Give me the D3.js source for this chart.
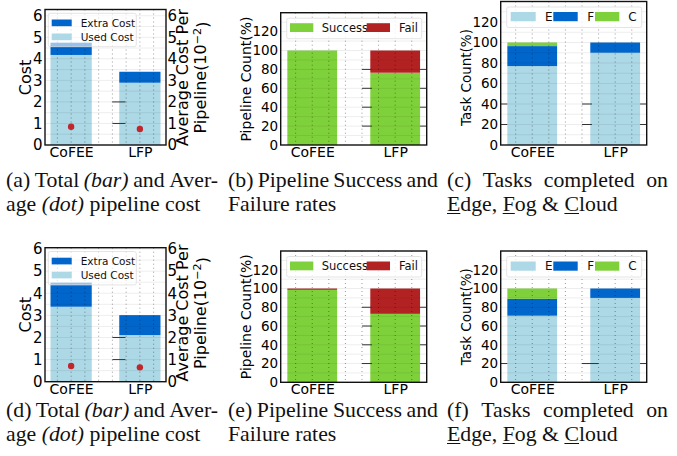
<!DOCTYPE html>
<html><head><meta charset="utf-8">
<script src="https://cdn.jsdelivr.net/npm/d3@7"></script>
<style>body{margin:0;background:#fff} svg{display:block}</style>
</head><body>
<svg id="chart" width="677" height="456"></svg>
<script>
// ---------------- DATA ----------------
const categories = ["CoFEE", "LFP"];
// Row 1
const usedCost1  = [4.18, 2.89];
const extraCost1 = [0.57, 0.51];
const avgCost1   = [0.85, 0.74];   // x10^-2
const success1   = [100, 76.5];
const fail1      = [0, 23.5];
const edge1      = [77, 90];
const fog1       = [19.5, 10];
const cloud1     = [3.5, 0];
// Row 2
const usedCost2  = [3.39, 2.11];
const extraCost2 = [1.09, 0.90];
const avgCost2   = [0.71, 0.65];   // x10^-2
const success2   = [98.6, 73];
const fail2      = [1.4, 27];
const edge2      = [71, 90];
const fog2       = [18, 10];
const cloud2     = [11, 0];
// Tick labels
const costTicks = [0, 1, 2, 3, 4, 5, 6];
const pctTicks  = [0, 20, 40, 60, 80, 100, 120];
// Captions: [word, italic, underlined char index]
const capA = [[["(a)"],["Total"],["(bar)",1],["and"],["Aver-"]], [["age"],["(dot)",1],["pipeline"],["cost"]]];
const capB = [[["(b)"],["Pipeline"],["Success"],["and"]], [["Failure"],["rates"]]];
const capC = [[["(c)"],["Tasks"],["completed"],["on"]], [["Edge,",0,0],["Fog",0,0],["&"],["Cloud",0,0]]];
const capD = [[["(d)"],["Total"],["(bar)",1],["and"],["Aver-"]], [["age"],["(dot)",1],["pipeline"],["cost"]]];
const capE = [[["(e)"],["Pipeline"],["Success"],["and"]], [["Failure"],["rates"]]];
const capF = [[["(f)"],["Tasks"],["completed"],["on"]], [["Edge,",0,0],["Fog",0,0],["&"],["Cloud",0,0]]];

// ---------------- STYLE ----------------
const C_LIGHT = "#add8e6", C_DARK = "#0066cc", C_GREEN = "#7fd13b", C_RED = "#b22222", C_DOT = "#c0272d";
const FONT = "DejaVu Sans, sans-serif";
const SERIF = "Liberation Serif, 'Times New Roman', serif";
const INK = "#000";
const svg = d3.select("#chart");

function drawPanel(cfg) {
  const g = svg.append("g");
  const x = d3.scaleLinear().domain([-0.38, 1.38]).range([cfg.left, cfg.right]);
  const y = d3.scaleLinear().domain([0, cfg.yMax]).range([cfg.bottom, cfg.top]);
  const keys = cfg.series.map(s => s.key);
  const rows = categories.map((c, i) => { const o = {cat: c, idx: i}; cfg.series.forEach(s => o[s.key] = s.values[i]); return o; });
  const stacked = d3.stack().keys(keys)(rows);
  const bw = 0.6;
  stacked.forEach((layer, k) => {
    g.append("g").selectAll("rect").data(layer).join("rect")
      .attr("x", d => x(d.data.idx - bw / 2))
      .attr("width", d => x(d.data.idx + bw / 2) - x(d.data.idx - bw / 2))
      .attr("y", d => y(d[1]))
      .attr("height", d => Math.max(0, y(d[0]) - y(d[1])))
      .attr("fill", cfg.series[k].color);
  });
  // grid
  const gridX = d3.range(-1, 7).map(k => k * 0.2);
  g.append("g").selectAll("line").data(gridX).join("line")
    .attr("x1", d => x(d)).attr("x2", d => x(d)).attr("y1", cfg.top).attr("y2", cfg.bottom)
    .attr("stroke", "#000").attr("stroke-opacity", 0.5).attr("stroke-width", 0.8).attr("stroke-dasharray", "1,3");
  const gridY = d3.range(1, Math.floor(cfg.yMax / cfg.minor + 1e-9) + 1).map(k => k * cfg.minor);
  g.append("g").selectAll("line").data(gridY).join("line")
    .attr("x1", cfg.left).attr("x2", cfg.right).attr("y1", d => y(d)).attr("y2", d => y(d))
    .attr("stroke", "#000").attr("stroke-opacity", 0.09).attr("stroke-width", 0.8);
  // dark accents
  (cfg.accents || []).forEach(a => {
    a.spans.forEach(sp => {
      g.append("g").selectAll("line").data(a.vals).join("line")
        .attr("x1", x(sp[0])).attr("x2", x(sp[1])).attr("y1", d => y(d)).attr("y2", d => y(d))
        .attr("stroke", "#333").attr("stroke-width", 1);
    });
  });
  // dots on right axis
  let yR = null;
  if (cfg.dots) {
    yR = d3.scaleLinear().domain([0, cfg.yMax]).range([cfg.bottom, cfg.top]);
    g.append("g").selectAll("circle").data(cfg.dots).join("circle")
      .attr("cx", (d, i) => x(i)).attr("cy", d => yR(d)).attr("r", 3.2).attr("fill", C_DOT);
  }
  // legend
  const L = cfg.legend;
  g.append("rect").attr("x", cfg.left + L.bx).attr("y", cfg.top + L.by).attr("width", L.bw).attr("height", L.bh)
    .attr("rx", 2).attr("fill", "#fff").attr("fill-opacity", L.op).attr("stroke", "#ddd").attr("stroke-width", 0.8);
  L.items.forEach(it => {
    g.append("rect").attr("x", cfg.left + it.px).attr("y", cfg.top + it.py).attr("width", it.pw).attr("height", it.ph).attr("fill", it.color);
    g.append("text").attr("x", cfg.left + it.tx).attr("y", cfg.top + it.py + it.ph / 2).attr("dy", "0.36em")
      .attr("font-family", FONT).attr("font-size", L.fs).attr("fill", "#111").text(it.label);
  });
  // frame
  g.append("rect").attr("x", cfg.left).attr("y", cfg.top).attr("width", cfg.right - cfg.left).attr("height", cfg.bottom - cfg.top)
    .attr("fill", "none").attr("stroke", "#111").attr("stroke-width", 1.4);
  // y axis
  const ya = g.append("g").attr("transform", `translate(${cfg.left},0)`)
    .call(d3.axisLeft(y).tickValues(cfg.ticks).tickSize(0).tickPadding(2.5).tickFormat(d3.format("d")));
  ya.select(".domain").remove();
  ya.selectAll("text").attr("font-family", FONT).attr("font-size", cfg.tickFont).attr("fill", INK);
  if (yR) {
    const yr = g.append("g").attr("transform", `translate(${cfg.right},0)`)
      .call(d3.axisRight(yR).tickValues(cfg.ticks).tickSize(0).tickPadding(1.5).tickFormat(d3.format("d")));
    yr.select(".domain").remove();
    yr.selectAll("text").attr("font-family", FONT).attr("font-size", cfg.tickFont).attr("fill", INK);
  }
  // x axis
  const xa = g.append("g").attr("transform", `translate(0,${cfg.bottom})`)
    .call(d3.axisBottom(x).tickValues([0, 1]).tickFormat(i => categories[i]).tickSize(0).tickPadding(2));
  xa.select(".domain").remove();
  xa.selectAll("text").attr("font-family", FONT).attr("font-size", 14).attr("fill", INK);
  // y label
  g.append("text").attr("transform", `translate(${cfg.ylab.x},${cfg.ylab.y}) rotate(-90)`)
    .attr("text-anchor", "middle").attr("dy", "0.35em").attr("font-family", FONT).attr("font-size", cfg.ylab.fs)
    .attr("fill", INK).text(cfg.ylab.text);
  if (cfg.rlab) {
    g.append("text").attr("transform", `translate(${cfg.rlab.x1},${cfg.rlab.y}) rotate(-90)`)
      .attr("text-anchor", "middle").attr("dy", "0.35em").attr("font-family", FONT).attr("font-size", cfg.rlab.fs)
      .attr("fill", INK).text("Average Cost Per");
    const t2 = g.append("text").attr("transform", `translate(${cfg.rlab.x2},${cfg.rlab.y}) rotate(-90)`)
      .attr("text-anchor", "middle").attr("dy", "0.35em").attr("font-family", FONT).attr("font-size", cfg.rlab.fs)
      .attr("fill", INK);
    t2.append("tspan").text("Pipeline(10");
    t2.append("tspan").attr("dy", "-0.45em").attr("font-size", cfg.rlab.fs * 0.7).text("\u22122");
    t2.append("tspan").attr("dy", "0.45em").text(")");
  }
}

function costLegend() {
  return {bx: 3.3, by: 3.8, bw: 88, bh: 33.4, op: 0.6, fs: 10.5,
    items: [{px: 6.7, py: 10, pw: 20, ph: 6.7, tx: 35.7, color: C_DARK, label: "Extra Cost"},
            {px: 6.7, py: 24, pw: 20, ph: 6.7, tx: 35.7, color: C_LIGHT, label: "Used Cost"}]};
}
function sfLegend(fs) {
  return {bx: 6, by: 5.5, bw: 135, bh: 20.5, op: 0.8, fs: fs,
    items: [{px: 9.3, py: 10.5, pw: 23.3, ph: 8.8, tx: 41, color: C_GREEN, label: "Success"},
            {px: 86, py: 10.5, pw: 23.3, ph: 8.8, tx: 118.3, color: C_RED, label: "Fail"}]};
}
function efcLegend(fs) {
  return {bx: 6, by: 5.5, bw: 135, bh: 20.5, op: 0.8, fs: fs,
    items: [{px: 10, py: 10.5, pw: 25, ph: 9.2, tx: 44.3, color: C_LIGHT, label: "E"},
            {px: 52.6, py: 10.5, pw: 24.4, ph: 9.2, tx: 86.6, color: C_DARK, label: "F"},
            {px: 94.3, py: 10.5, pw: 24.3, ph: 9.2, tx: 127.6, color: C_GREEN, label: "C"}]};
}

// Row 1
drawPanel({left: 45, right: 166, top: 9.5, bottom: 145, yMax: 6.29, minor: 0.5, ticks: costTicks, tickFont: 15,
  series: [{key: "used", values: usedCost1, color: C_LIGHT}, {key: "extra", values: extraCost1, color: C_DARK}],
  dots: avgCost1, legend: costLegend(),
  accents: [{vals: [1, 2], spans: [[0.6, 0.79]]}],
  ylab: {x: 25.5, y: 77.5, fs: 16, text: "Cost"}, rlab: {x1: 182, x2: 200, y: 77.5, fs: 16}});
drawPanel({left: 280.7, right: 426.7, top: 12.7, bottom: 145, yMax: 140, minor: 10, ticks: pctTicks, tickFont: 13.5,
  series: [{key: "s", values: success1, color: C_GREEN}, {key: "f", values: fail1, color: C_RED}],
  legend: sfLegend(11.5),
  accents: [{vals: [20, 40, 60, 80], spans: [[0.6, 0.72], [1.3, 1.38]]}],
  ylab: {x: 246, y: 79, fs: 14, text: "Pipeline Count(%)"}});
drawPanel({left: 500.7, right: 646.7, top: 1.5, bottom: 145, yMax: 140, minor: 10, ticks: pctTicks, tickFont: 13.5,
  series: [{key: "e", values: edge1, color: C_LIGHT}, {key: "f", values: fog1, color: C_DARK}, {key: "c", values: cloud1, color: C_GREEN}],
  legend: efcLegend(12),
  accents: [{vals: [20, 40], spans: [[-0.38, -0.3], [0.6, 0.72], [1.3, 1.38]]}],
  ylab: {x: 466, y: 77.5, fs: 13.5, text: "Task Count(%)"}});
// Row 2
drawPanel({left: 45, right: 166, top: 247.7, bottom: 381.7, yMax: 6.06, minor: 0.5, ticks: costTicks, tickFont: 15,
  series: [{key: "used", values: usedCost2, color: C_LIGHT}, {key: "extra", values: extraCost2, color: C_DARK}],
  dots: avgCost2, legend: costLegend(),
  accents: [{vals: [1, 2], spans: [[0.6, 0.79]]}],
  ylab: {x: 25.5, y: 314.7, fs: 16, text: "Cost"}, rlab: {x1: 182, x2: 200, y: 313, fs: 16}});
drawPanel({left: 280.7, right: 426.7, top: 251, bottom: 382.3, yMax: 140, minor: 10, ticks: pctTicks, tickFont: 13.5,
  series: [{key: "s", values: success2, color: C_GREEN}, {key: "f", values: fail2, color: C_RED}],
  legend: sfLegend(11.5),
  accents: [{vals: [20, 40, 60, 80], spans: [[0.6, 0.72], [1.3, 1.38]]}],
  ylab: {x: 246, y: 316.7, fs: 14, text: "Pipeline Count(%)"}});
drawPanel({left: 500.7, right: 646.7, top: 251, bottom: 382.3, yMax: 140, minor: 10, ticks: pctTicks, tickFont: 13.5,
  series: [{key: "e", values: edge2, color: C_LIGHT}, {key: "f", values: fog2, color: C_DARK}, {key: "c", values: cloud2, color: C_GREEN}],
  legend: efcLegend(12),
  accents: [{vals: [20], spans: [[-0.38, -0.3], [0.6, 0.8], [1.3, 1.38]]}],
  ylab: {x: 466, y: 316.7, fs: 13.5, text: "Task Count(%)"}});

// Captions
const CAP_FS = 20, SX = 1.09, LINE = 24;
function caption(x0, baseline, lines, widths) {
  const g = svg.append("g").attr("transform", `translate(${x0},0) scale(${SX},1)`);
  lines.forEach((words, li) => {
    const yb = baseline + li * LINE;
    const els = words.map(w => g.append("text").attr("y", yb).attr("font-family", SERIF).attr("font-size", CAP_FS)
      .attr("font-style", w[1] ? "italic" : "normal").attr("fill", "#111").text(w[0]));
    const ws = els.map(e => e.node().getComputedTextLength());
    let gap = CAP_FS * 0.25;
    if (widths[li]) gap = (widths[li] / SX - d3.sum(ws)) / (words.length - 1);
    let cx = 0;
    els.forEach((e, i) => {
      e.attr("x", cx);
      if (words[i][2] !== undefined) {
        const ext = e.node().getExtentOfChar(words[i][2]);
        g.append("line").attr("x1", ext.x).attr("x2", ext.x + ext.width).attr("y1", yb + 2.5).attr("y2", yb + 2.5)
          .attr("stroke", "#111").attr("stroke-width", 1);
      }
      cx += ws[i] + gap;
    });
  });
}
caption(6, 187, capA, [212, 0]);
caption(228, 187, capB, [210, 0]);
caption(447, 187, capC, [221, 0]);
caption(6, 417, capD, [212, 0]);
caption(228, 417, capE, [210, 0]);
caption(447, 417, capF, [221, 0]);
</script>
</body></html>
